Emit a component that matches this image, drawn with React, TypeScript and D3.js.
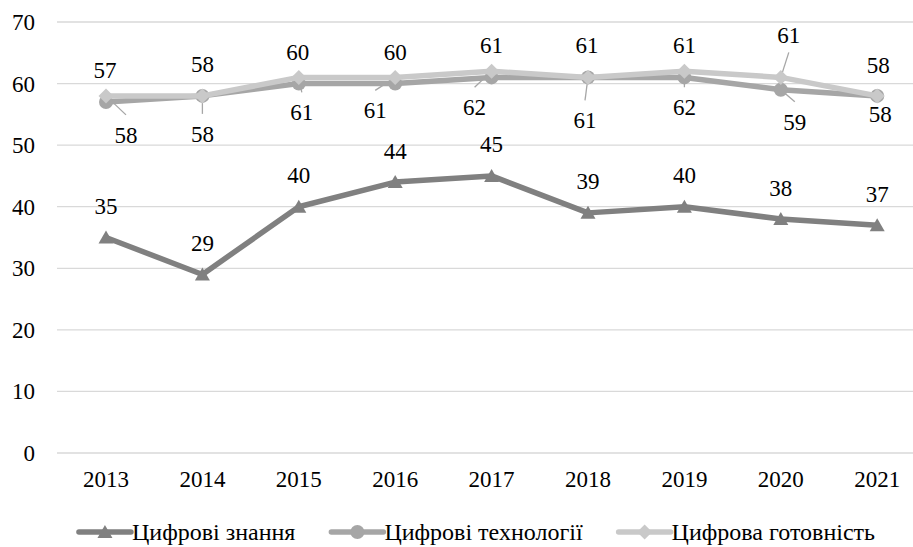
import React, { useMemo } from "react";
import * as d3 from "d3";

// Index values by year
const years = ["2013", "2014", "2015", "2016", "2017", "2018", "2019", "2020", "2021"];
const knowledge = [35, 29, 40, 44, 45, 39, 40, 38, 37];
const technology = [57, 58, 60, 60, 61, 61, 61, 59, 58];
const readiness = [58, 58, 61, 61, 62, 61, 62, 61, 58];
const yTicks = [0, 10, 20, 30, 40, 50, 60, 70];
const seriesNames = ["Цифрові знання", "Цифрові технології", "Цифрова готовність"];

// Data-label placement relative to each point: [dx, dy of baseline, leader line?]
const knowledgeLabelPos: [number, number, boolean][] = years.map(() => [0, -23.5, false]);
const technologyLabelPos: [number, number, boolean][] = [
  [-1, -24, false], [0, -24, false], [-1, -24, false], [0, -24, false], [0, -24, false],
  [-1, -24, false], [0, -24, false], [14, 40, true], [1, -23, false],
];
const readinessLabelPos: [number, number, boolean][] = [
  [20, 47, true], [0, 46, true], [3, 43, true], [-20, 41, true], [-17, 44, true],
  [-3, 51, true], [0, 44, true], [8, -34, true], [3, 26, false],
];

const W = 913;
const H = 547;
const FONT = "'Liberation Serif', 'Times New Roman', Times, serif";
const FS = 23;
const LEGEND_FS = 24;
const textStyle: React.CSSProperties = { fontFamily: FONT, fontSize: `${FS}px` };
const legendStyle: React.CSSProperties = { fontFamily: FONT, fontSize: `${LEGEND_FS}px` };

type Shape = "triangle" | "circle" | "diamond";

function markerPath(shape: Shape, x: number, y: number): string {
  if (shape === "triangle") {
    return `M${x},${y - 7}L${x + 7.5},${y + 6}L${x - 7.5},${y + 6}Z`;
  }
  if (shape === "diamond") {
    const r = 7.5;
    return `M${x},${y - r}L${x + r},${y}L${x},${y + r}L${x - r},${y}Z`;
  }
  const r = 7;
  return `M${x - r},${y}a${r},${r} 0 1,0 ${2 * r},0a${r},${r} 0 1,0 ${-2 * r},0Z`;
}

const series = [
  { name: seriesNames[0], values: knowledge, color: "#808080", shape: "triangle" as Shape, labels: knowledgeLabelPos },
  { name: seriesNames[1], values: technology, color: "#a6a6a6", shape: "circle" as Shape, labels: technologyLabelPos },
  { name: seriesNames[2], values: readiness, color: "#c9c9c9", shape: "diamond" as Shape, labels: readinessLabelPos },
];

export default function App() {
  const x = d3.scalePoint<string>().domain(years).range([106, 877.2]);
  const y = d3.scaleLinear().domain([0, 70]).range([453, 22]);
  const line = d3
    .line<number>()
    .x((_, i) => x(years[i]) as number)
    .y((d) => y(d));

  // Legend layout from measured text widths, centred under the plot
  const legend = useMemo(() => {
    const ctx = document.createElement("canvas").getContext("2d");
    let widths = seriesNames.map((n) => n.length * 11);
    if (ctx) {
      ctx.font = `${LEGEND_FS}px 'Liberation Serif', serif`;
      widths = seriesNames.map((n) => ctx.measureText(n).width);
    }
    const lineLen = 52;
    const textGap = 1;
    const itemGap = 36;
    const total = widths.reduce((a, w) => a + lineLen + textGap + w, 0) + itemGap * (widths.length - 1);
    let cx = 477 - total / 2;
    return widths.map((w) => {
      const item = { x0: cx, x1: cx + lineLen, tx: cx + lineLen + textGap };
      cx += lineLen + textGap + w + itemGap;
      return item;
    });
  }, []);

  const legendY = 540;

  return (
    <svg width={W} height={H} style={{ position: "absolute", left: 0, top: 0, background: "#fff" }}>
      {/* gridlines and value axis */}
      {yTicks.map((t) => (
        <g key={t}>
          <line x1={57} x2={913} y1={y(t)} y2={y(t)} stroke="#d9d9d9" strokeWidth={1.3} />
          <text x={35} y={y(t)} dy="0.35em" textAnchor="end" style={textStyle} fill="#000">
            {t}
          </text>
        </g>
      ))}
      {/* category axis labels */}
      {years.map((yr) => (
        <text key={yr} x={x(yr)} y={487} textAnchor="middle" style={textStyle} fill="#000">
          {yr}
        </text>
      ))}

      {/* leader lines for displaced data labels */}
      {series.map((s) =>
        s.values.map((v, i) => {
          const [dx, dy, lead] = s.labels[i];
          if (!lead) return null;
          const px = x(years[i]) as number;
          const py = y(v);
          const lx = px + dx;
          const base = py + dy;
          const ey = dy > 0 ? base - 28 : base + 9;
          return (
            <line key={`${s.name}-lead-${i}`} x1={px} y1={py} x2={lx} y2={ey} stroke="#a6a6a6" strokeWidth={1.3} />
          );
        })
      )}

      {/* series lines and markers */}
      {series.map((s) => (
        <g key={s.name}>
          <path d={line(s.values) || ""} fill="none" stroke={s.color} strokeWidth={5.5} strokeLinejoin="round" />
          {s.values.map((v, i) => (
            <path key={i} d={markerPath(s.shape, x(years[i]) as number, y(v))} fill={s.color} />
          ))}
        </g>
      ))}

      {/* data labels */}
      {series.map((s) =>
        s.values.map((v, i) => {
          const [dx, dy] = s.labels[i];
          return (
            <text
              key={`${s.name}-lbl-${i}`}
              x={(x(years[i]) as number) + dx}
              y={y(v) + dy}
              textAnchor="middle"
              style={textStyle}
              fill="#000"
            >
              {v}
            </text>
          );
        })
      )}

      {/* legend */}
      {series.map((s, i) => {
        const it = legend[i];
        const mx = (it.x0 + it.x1) / 2;
        return (
          <g key={`leg-${s.name}`}>
            <line x1={it.x0} x2={it.x1} y1={legendY - 8} y2={legendY - 8} stroke={s.color} strokeWidth={5.5} strokeLinecap="round" />
            <path d={markerPath(s.shape, mx, legendY - 8)} fill={s.color} />
            <text x={it.tx} y={legendY} style={legendStyle} fill="#000">
              {s.name}
            </text>
          </g>
        );
      })}
    </svg>
  );
}
